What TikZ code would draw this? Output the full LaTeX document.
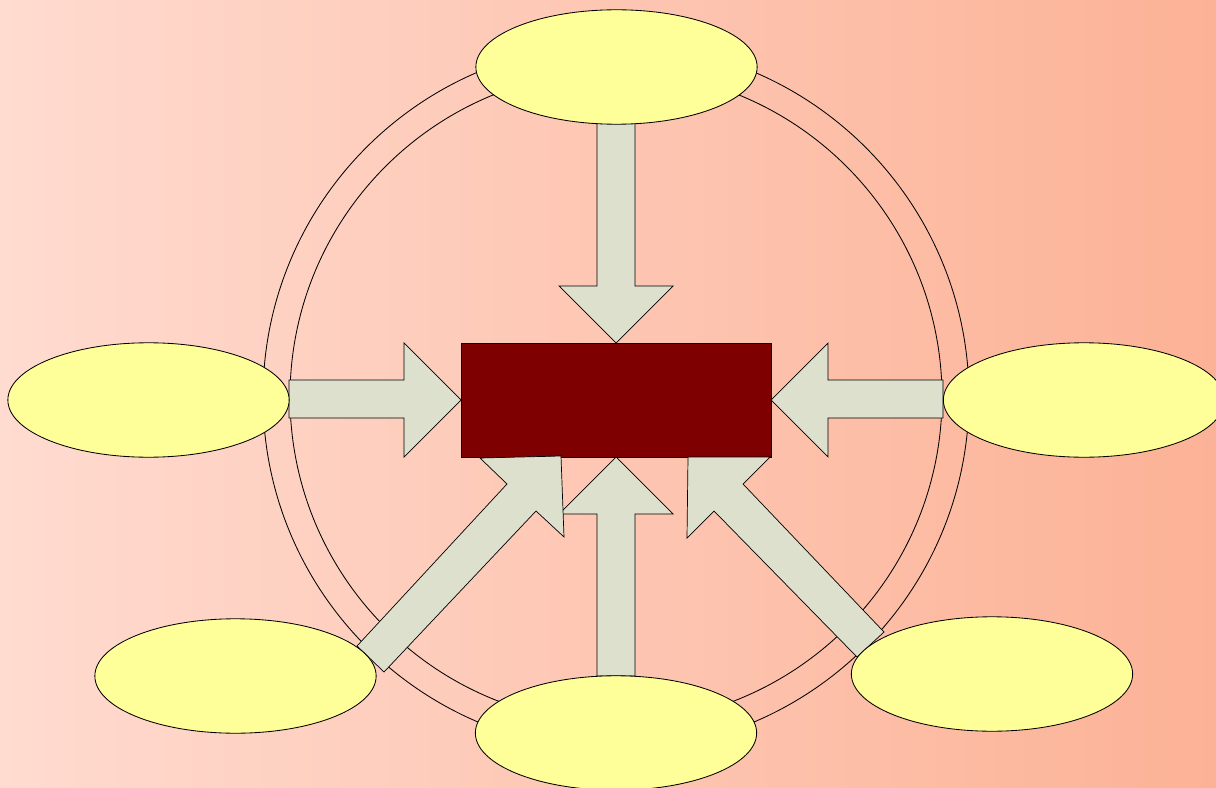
\documentclass[tikz,border=0pt]{standalone}
\usetikzlibrary{shapes.geometric}
\definecolor{bgL}{HTML}{FFDBD0}
\definecolor{bgR}{HTML}{FCB296}
\definecolor{ellfill}{HTML}{FFFF99}
\definecolor{arrfill}{HTML}{DDE0CC}
\definecolor{boxfill}{HTML}{7F0000}
\tikzset{
  bubble/.style={ellipse, draw=black, line width=0.6pt, fill=ellfill,
    minimum width=7.03cm, minimum height=2.86cm, inner sep=0pt},
  blockarrow/.style={draw=black, line width=0.5pt, fill=arrfill, line join=miter},
  ring/.style={draw=black, line width=0.6pt},
  centerbox/.style={draw=black, line width=0.5pt, fill=boxfill}
}
\begin{document}
\begin{tikzpicture}[x=0.025cm,y=-0.025cm]
\useasboundingbox (0,0) rectangle (1216,788);
\clip (0,0) rectangle (1216,788);
\shade[left color=bgL, right color=bgR] (0,0) rectangle (1216,788);
% rings
\draw[ring] (616,397) circle[radius=353];
\draw[ring] (616,397) circle[radius=326];
% centre box
\draw[centerbox] (461,343) rectangle (771,457);
\coordinate (boxc) at (616,400);
% straight arrows
\draw[blockarrow] (597,123) -- (635,123) -- (635,286) -- (673,286) -- (616,343) -- (559,286) -- (597,286) -- cycle;
\draw[blockarrow] (289,380) -- (404,380) -- (404,343) -- (461,400) -- (404,457) -- (404,418) -- (289,418) -- cycle;
\draw[blockarrow] (943,380) -- (828,380) -- (828,343) -- (771,400) -- (828,457) -- (828,418) -- (943,418) -- cycle;
\draw[blockarrow] (597,676) -- (635,676) -- (635,514) -- (673,514) -- (616,457) -- (559,514) -- (597,514) -- cycle;
% diagonal arrows
\draw[blockarrow] (357,646) -- (507,484) -- (480,458) -- (561,456) -- (564,537) -- (536,511) -- (384,672) -- cycle;
\draw[blockarrow] (884,632) -- (743,484) -- (770,457) -- (688,457) -- (687,538) -- (714,511) -- (857,657) -- cycle;
% ellipses
\node[bubble] (top) at (616.5,67) {};
\node[bubble] (left) at (148.5,400) {};
\node[bubble] (right) at (1084,400) {};
\node[bubble] (botleft) at (235.5,676) {};
\node[bubble] (bot) at (616,733) {};
\node[bubble] (botright) at (992,674) {};
\end{tikzpicture}
\end{document}
